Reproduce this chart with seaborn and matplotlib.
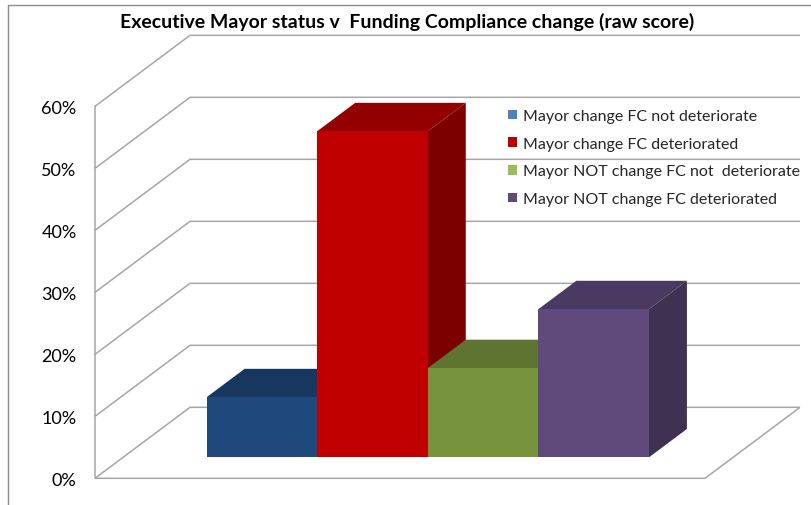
import numpy as np
import matplotlib
matplotlib.use("Agg")
import matplotlib.pyplot as plt
from matplotlib.patches import Patch, Polygon
from matplotlib.lines import Line2D
import seaborn as sns

# ---- data -------------------------------------------------------------
series = [
    "Mayor change FC not deteriorate",
    "Mayor change FC deteriorated",
    "Mayor NOT change FC not  deteriorate",
    "Mayor NOT change FC deteriorated",
]
values = [9.7, 52.6, 14.4, 23.9]          # percent
y_ticks = [0, 10, 20, 30, 40, 50, 60]     # percent
title = "Executive Mayor status v  Funding Compliance change (raw score)"

# ---- colours ----------------------------------------------------------
legend_colors = ["#4F81BD", "#C00000", "#9BBB59", "#604A7B"]
front_colors = ["#1F497D", "#C00000", "#77933C", "#604A7B"]
top_colors = ["#17375E", "#930000", "#5E7430", "#4A3A62"]
side_colors = ["#132E4F", "#7C0000", "#4F6128", "#3F3151"]
grid_color = "#A6A6A6"

sns.set_theme(style="white")
plt.rcParams["font.family"] = ["Lato", "DejaVu Sans"]

W, H = 811, 506
fig = plt.figure(figsize=(W / 100, H / 100), dpi=100)
fig.patch.set_facecolor("white")

# pixel geometry of the oblique box
UX = 110.575          # px per category unit
UY = 6.2              # px per percent
X0_PX, Y0_PX = 206.7, 458.3   # left / bottom of first bar's front face
ZB = 0.296            # depth of bar front (0 = floor front, 1 = back wall)
BD = 0.399            # bar depth
DX = 95.0 / UX        # x shift over full depth (data units)
DY = 71.0 / UY        # y shift over full depth (data units)

ax = fig.add_axes([0, 0, 1, 1])

sns.barplot(x=series, y=values, hue=series, order=series, hue_order=series,
            palette=front_colors, saturation=1, width=1.0, linewidth=0,
            legend=False, ax=ax)

ax.set_xlim(-0.5 - X0_PX / UX, -0.5 + (W - X0_PX) / UX)
ax.set_ylim((Y0_PX - H) / UY, Y0_PX / UY)
ax.axis("off")


def P(x, p, z):
    """Project a point (category x, percent p, depth z) onto the bar-front plane."""
    return (x + (z - ZB) * DX, p + (z - ZB) * DY)


# floor extent in category units
xL = -0.5 - (X0_PX - 95.0 - ZB * 95.0) / UX
xR = xL + 610.0 / UX

line_kw = dict(color=grid_color, lw=1.1, zorder=1, solid_capstyle="butt")

# side wall + back wall gridlines
for p in y_ticks:
    a, b, c = P(xL, p, 0), P(xL, p, 1), P(xR, p, 1)
    ax.plot([a[0], b[0], c[0]], [a[1], b[1], c[1]], **line_kw)

# floor outline
a, b, c = P(xL, 0, 0), P(xR, 0, 0), P(xR, 0, 1)
ax.plot([a[0], b[0], c[0]], [a[1], b[1], c[1]], **line_kw)

# 3D faces of the bars (tops and right sides)
bars = sorted(ax.patches, key=lambda r: r.get_x())
for i, bar in enumerate(bars):
    x0 = bar.get_x()
    x1 = x0 + bar.get_width()
    h = bar.get_height()
    bar.set_zorder(10 + 2 * i + 1)
    top = [P(x0, h, ZB), P(x1, h, ZB), P(x1, h, ZB + BD), P(x0, h, ZB + BD)]
    side = [P(x1, 0, ZB), P(x1, h, ZB), P(x1, h, ZB + BD), P(x1, 0, ZB + BD)]
    ax.add_patch(Polygon(top, closed=True, facecolor=top_colors[i],
                         edgecolor="none", zorder=10 + 2 * i))
    ax.add_patch(Polygon(side, closed=True, facecolor=side_colors[i],
                         edgecolor="none", zorder=10 + 2 * i))

# value axis on the front edge of the side wall
axt = fig.add_axes([95.0 / W, 1 - 479.3 / H, 0.0001, (479.3 - 107.3) / H])
axt.set_ylim(0, 60)
axt.set_yticks(y_ticks)
axt.set_yticklabels([f"{t}%" for t in y_ticks])
axt.patch.set_alpha(0)
axt.xaxis.set_visible(False)
for s in ["top", "right", "bottom"]:
    axt.spines[s].set_visible(False)
axt.spines["left"].set_color(grid_color)
axt.spines["left"].set_linewidth(1.1)
axt.tick_params(axis="y", direction="out", length=3.2, width=1.0,
                color=grid_color, pad=10.0, labelsize=13, labelcolor="#000000")

# legend
handles = [Patch(facecolor=c, edgecolor="none") for c in legend_colors]
fig.legend(handles, series, loc="upper left",
           bbox_to_anchor=(508 / W, 1 - 110 / H), frameon=False,
           fontsize=11.5, handlelength=0.55, handleheight=0.55,
           handletextpad=0.42, labelspacing=0.86, borderpad=0,
           borderaxespad=0)

# title
fig.text(407 / W, 1 - 22 / H, title, ha="center", va="center",
         fontsize=14, fontweight="bold", color="#000000")

# chart frame
fig.add_artist(Line2D([8 / W, 1], [1 - 6 / H, 1 - 6 / H],
                      transform=fig.transFigure, color="#8C8C8C", lw=1.0))
fig.add_artist(Line2D([8 / W, 8 / W], [1 - 6 / H, 0],
                      transform=fig.transFigure, color="#8C8C8C", lw=1.0))

fig.savefig("out.png", dpi=100)
